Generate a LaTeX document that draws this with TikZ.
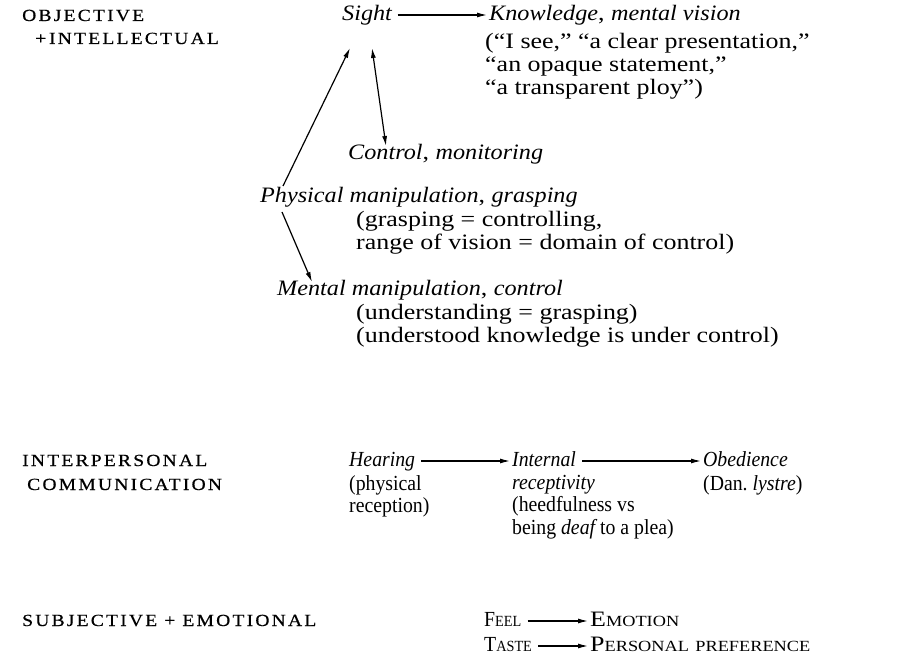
\documentclass[tikz,border=0pt]{standalone}
\usepackage{fontspec}
\setmainfont{Liberation Serif}[FakeStretch=1.18, ItalicFeatures={FakeStretch=1.1}]
\newfontfamily\spacedcaps{Liberation Serif}[FakeStretch=1.15, LetterSpace=13, FakeBold=0.6]
\newfontfamily\narrowserif{Liberation Serif}[FakeStretch=0.92]
\usetikzlibrary{arrows.meta}

% small caps by hand: big first letter, smaller rest
\newcommand{\handsc}[2]{#1{\fontsize{15.5}{16}\selectfont #2}}

\begin{document}
\begin{tikzpicture}[x=1pt, y=-1pt,
  every node/.style={inner sep=0pt, anchor=base west, font=\fontsize{22}{23}\selectfont},
  head/.style={font=\spacedcaps\fontsize{17}{23}\selectfont},
  note/.style={anchor=north west, align=left},
  narrow/.style={font=\narrowserif\fontsize{21.5}{22.5}\selectfont},
  conn/.style={-{Latex[length=10pt,width=5pt]}, line width=1.2pt},
  twoway/.style={{Latex[length=10pt,width=5pt]}-{Latex[length=10pt,width=5pt]}, line width=1.2pt}]

  \useasboundingbox (0,0) rectangle (921,660);

  % ---- objective + intellectual ----
  \node[head] (objhead) at (22,21) {OBJECTIVE};
  \node[head] (intelhead) at (35,44) {+\,INTELLECTUAL};

  \node (sight) at (342,21) {\textit{Sight}};
  \node (know) at (489,21) {\textit{Knowledge}, \textit{mental vision}};
  \node[note] (knownote) at (485,33) {(``I see,'' ``a clear presentation,''\\
    ``an opaque statement,''\\``a transparent ploy'')};
  \node (control) at (348,160) {\textit{Control}, \textit{monitoring}};
  \node (phys) at (260,203) {\textit{Physical manipulation}, \textit{grasping}};
  \node[note] (physnote) at (356,211) {(grasping = controlling,\\
    range of vision = domain of control)};
  \node (mental) at (277,296) {\textit{Mental manipulation}, \textit{control}};
  \node[note] (mentalnote) at (356,304) {(understanding = grasping)\\
    (understood knowledge is under control)};

  \draw[conn, shorten <=5pt, shorten >=2pt] ([yshift=6pt]sight.base east) -- ([yshift=6pt]know.base west);
  \draw[conn] ([xshift=23pt, yshift=17pt]phys.base west) -- ([xshift=8pt, yshift=-27pt]sight.base west);
  \draw[twoway] ([xshift=30pt, yshift=-27pt]sight.base west) -- ([xshift=38pt, yshift=14pt]control.base west);
  \draw[conn] ([xshift=22pt, yshift=-9pt]phys.base west) -- ([xshift=35pt, yshift=14pt]mental.base west);

  % ---- interpersonal communication ----
  \node[head] (interhead) at (22,466) {INTERPERSONAL};
  \node[head] (commhead) at (27,490) {COMMUNICATION};

  \node[narrow] (hear) at (349,466) {\textit{Hearing}};
  \node[narrow, note] (hearnote) at (349,475) {(physical\\reception)};
  \node[narrow] (intl) at (512,466) {\textit{Internal}};
  \node[narrow, note] (intlnote) at (512,475) {\textit{receptivity}\\(heedfulness vs\\
    being {\itshape deaf} to a plea)};
  \node[narrow] (obey) at (703,466) {\textit{Obedience}};
  \node[narrow] (obeynote) at (703,490) {(Dan.\ \textit{lystre})};

  \draw[conn, shorten <=6pt, shorten >=2pt] ([yshift=5pt]hear.base east) -- ([yshift=5pt]intl.base west);
  \draw[conn, shorten <=6pt, shorten >=2pt] ([yshift=5pt]intl.base east) -- ([yshift=5pt]obey.base west);

  % ---- subjective + emotional ----
  \node[head] (subjhead) at (22,626) {SUBJECTIVE + EMOTIONAL};

  \node[narrow] (feel) at (484,626) {\handsc{F}{EEL}};
  \node (emotion) at (590,626) {\handsc{E}{MOTION}};
  \node[narrow] (taste) at (484,651) {\handsc{T}{ASTE}};
  \node (pref) at (590,651) {\handsc{P}{ERSONAL} \handsc{}{PREFERENCE}};

  \draw[conn, shorten <=6pt, shorten >=2pt] ([yshift=5pt]feel.base east) -- ([yshift=5pt]emotion.base west);
  \draw[conn, shorten <=6pt, shorten >=2pt] ([yshift=5pt]taste.base east) -- ([yshift=5pt]pref.base west);

\end{tikzpicture}
\end{document}
